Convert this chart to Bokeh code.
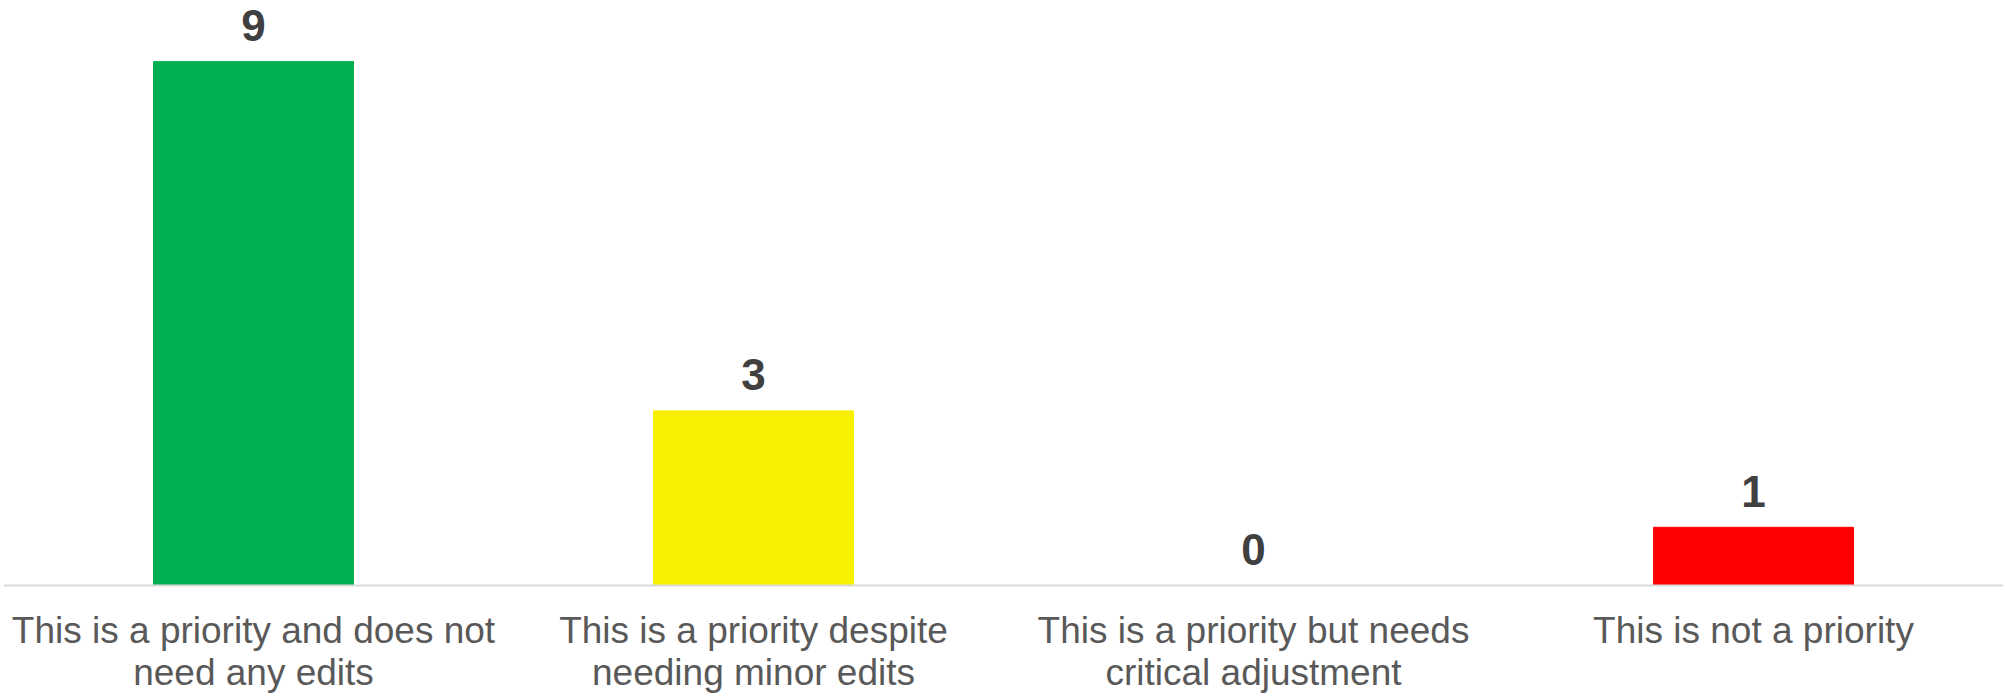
from bokeh.plotting import figure
from bokeh.models import ColumnDataSource, FactorRange, Range1d, Span
from bokeh.core.properties import value
from bokeh.embed import file_html
from bokeh.resources import INLINE

categories = ["This is a priority and does not need any edits",
              "This is a priority despite needing minor edits",
              "This is a priority but needs critical adjustment",
              "This is not a priority"]
label_line1 = ["This is a priority and does not",
               "This is a priority despite",
               "This is a priority but needs",
               "This is not a priority"]
label_line2 = ["need any edits",
               "needing minor edits",
               "critical adjustment",
               ""]
counts = [9, 3, 0, 1]
colors = ["#00B050", "#F7F000", "#00B050", "#FF0000"]

src = ColumnDataSource(dict(cat=categories, val=counts, col=colors,
                            lbl=[str(v) for v in counts],
                            l1=label_line1, l2=label_line2,
                            zero=[0] * len(counts)))

p = figure(width=2005, height=697, output_backend="svg", toolbar_location=None,
           x_range=FactorRange(*categories, range_padding=0),
           y_range=Range1d(-1.924, 10.05),
           min_border_left=3, min_border_right=2, min_border_top=0, min_border_bottom=0)

p.vbar(x="cat", top="val", width=0.4, color="col", source=src)
p.add_layout(Span(location=0, dimension="width", line_color="#d9d9d9", line_width=2))
p.text(x="cat", y="val", text="lbl", source=src, text_align="center",
       text_baseline="alphabetic", y_offset=-36, text_font=value("Liberation Sans"),
       text_font_style="bold", text_font_size="44px", text_color="#404040")
for col, off in (("l1", 45), ("l2", 87)):
    p.text(x="cat", y="zero", text=col, source=src, text_align="center",
           text_baseline="alphabetic", y_offset=off, text_font=value("Liberation Sans"),
           text_font_size="37px", text_color="#595959")

p.axis.visible = False
p.grid.visible = False
p.outline_line_color = None

open("out.html", "w").write(file_html(p, INLINE))
